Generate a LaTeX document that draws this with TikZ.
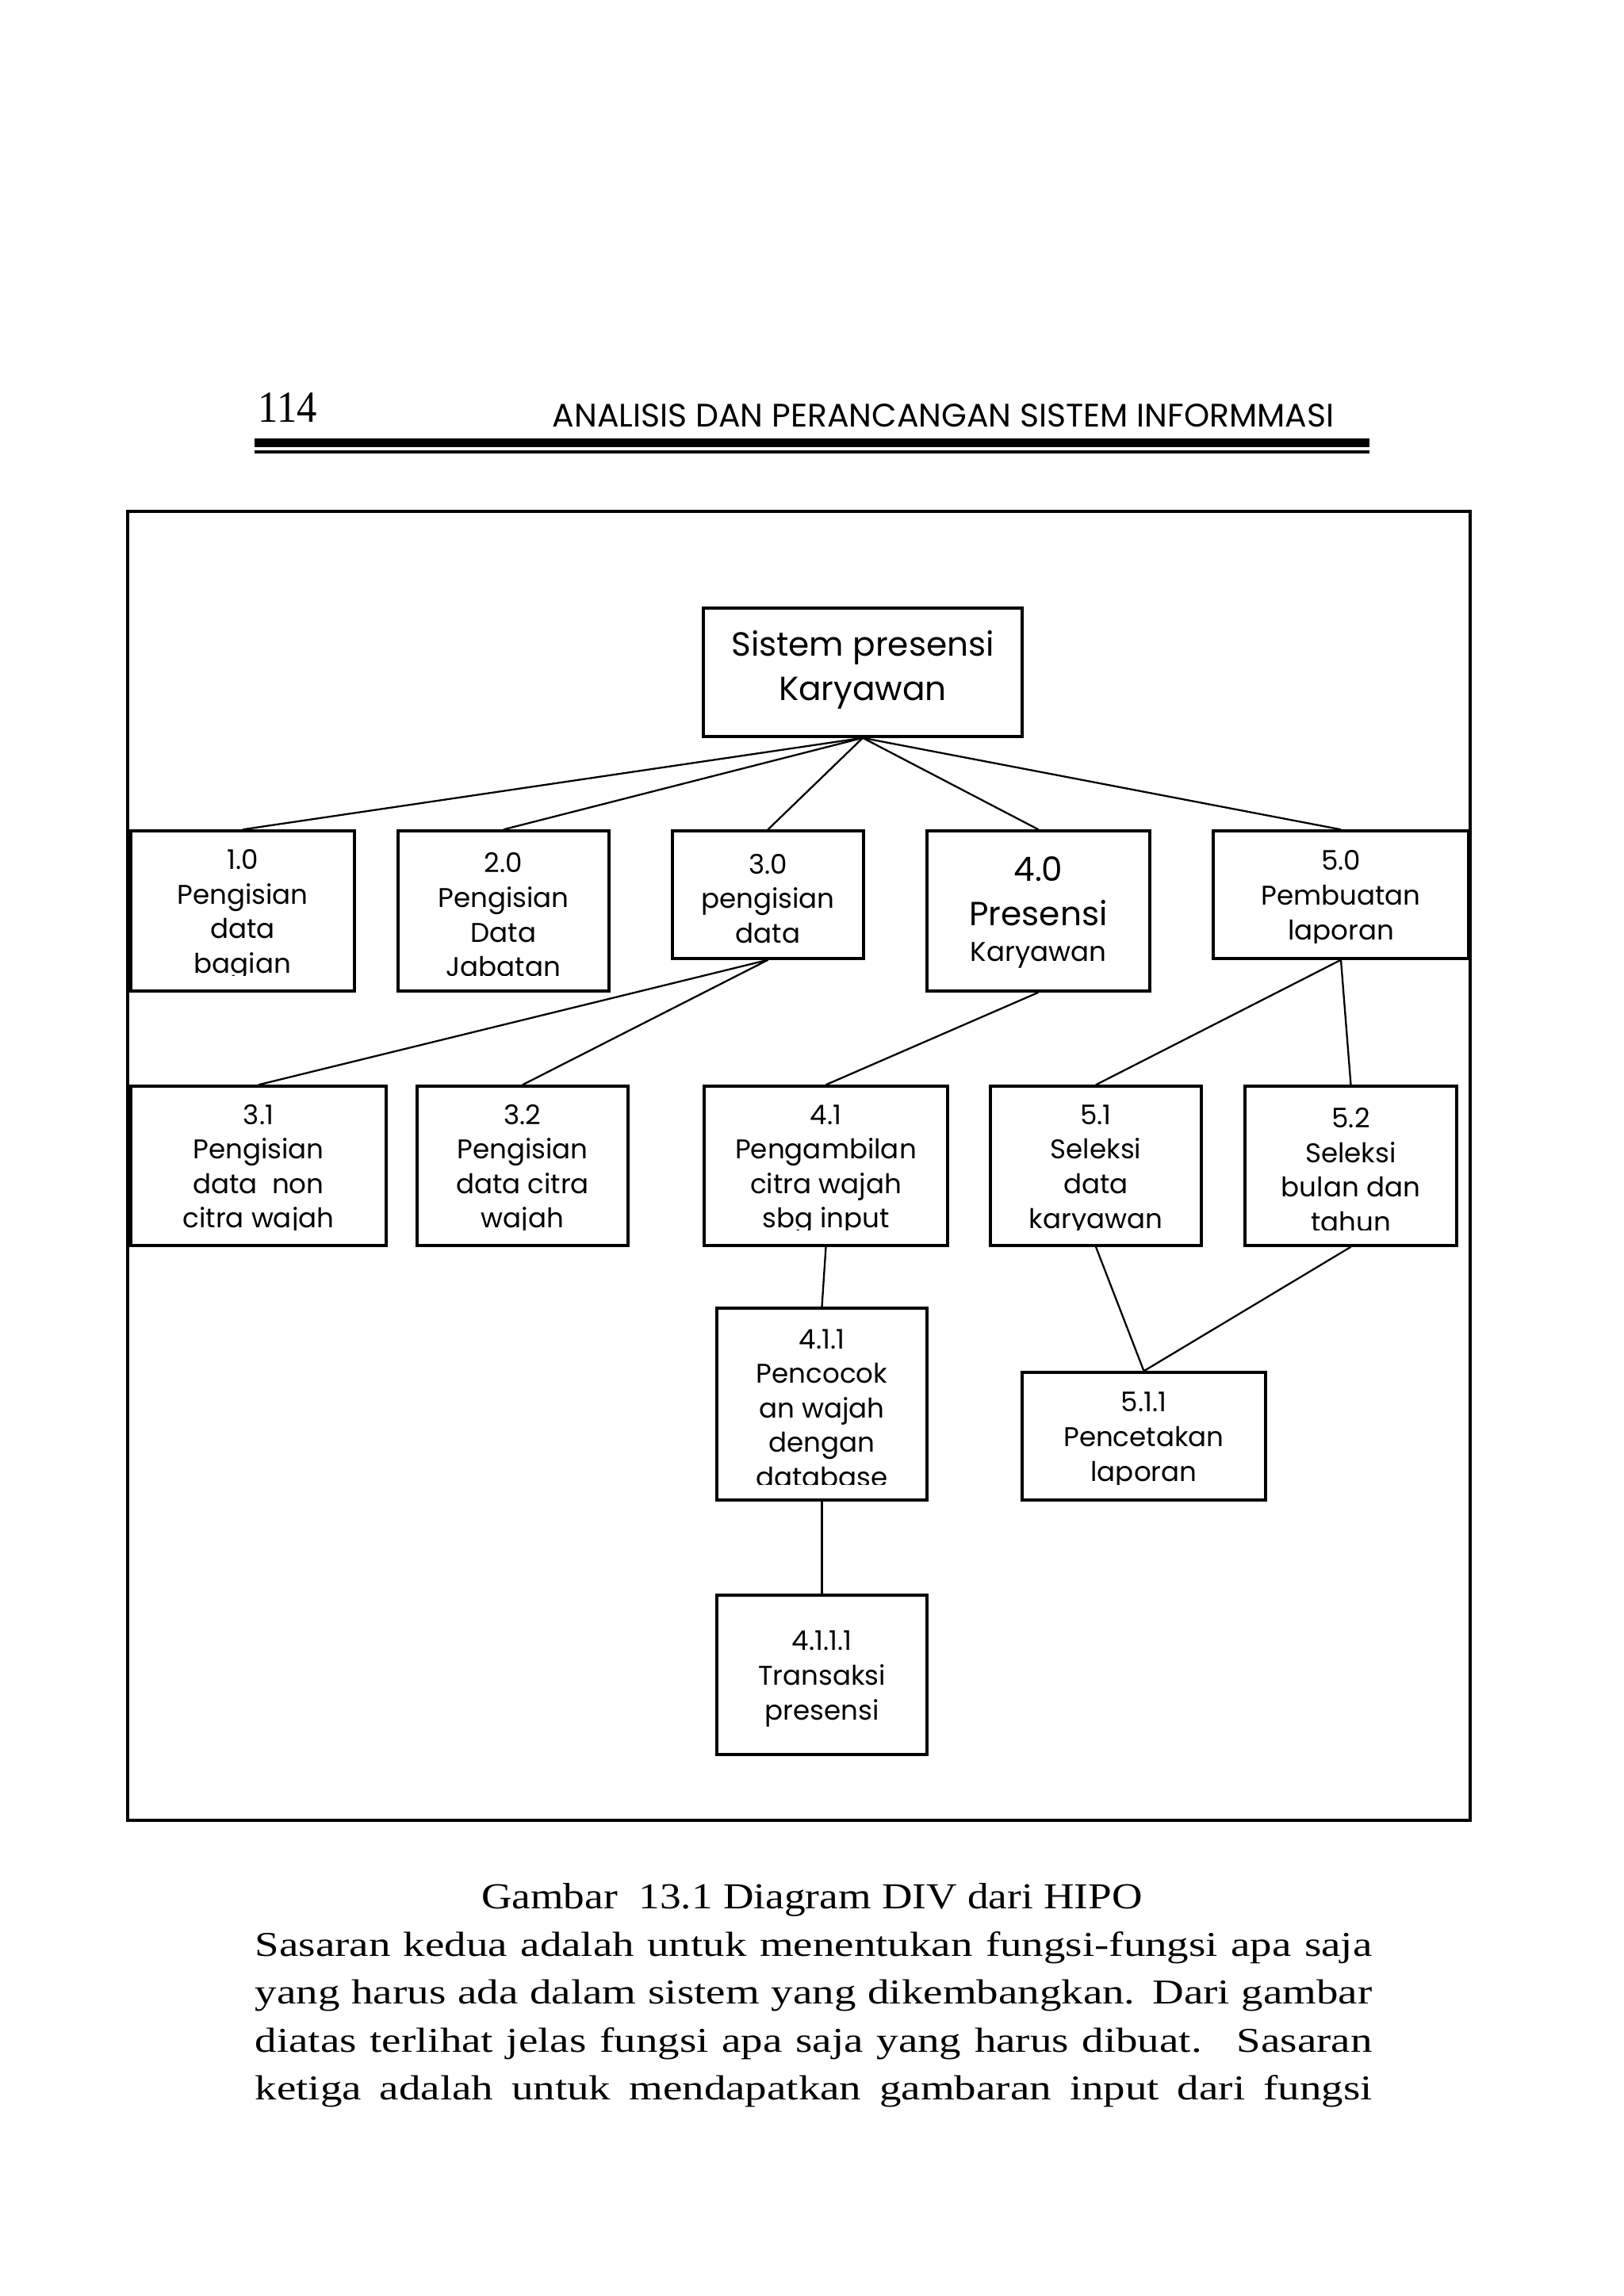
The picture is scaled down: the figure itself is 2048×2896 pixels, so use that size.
\documentclass[tikz,border=0pt]{standalone}
\usepackage{fontspec}
\setmainfont{Liberation Serif}
\newfontfamily\gothic{Poppins}
\newfontfamily\bookfont[FakeStretch=1.25]{Liberation Serif}
\usepackage{graphicx}
\tikzset{
  box/.style={draw, line width=0.95pt, inner sep=0pt},
  boxtext/.style={anchor=north, align=center, inner sep=0pt, yshift=-0.032cm, font=\gothic\fontsize{9.7}{12.4}\selectfont},
  big/.style={boxtext/.append style={yshift=0.03cm, font=\gothic\fontsize{12}{15.7}\selectfont}},
  proc/.style 2 args={path picture={
      \clip (path picture bounding box.north west) rectangle ([yshift=0.195cm]path picture bounding box.south east);
      \node[boxtext] (#1) at (path picture bounding box.north) {\vphantom{l}#2};}},
  link/.style={line width=0.65pt},
}
\begin{document}
\begin{tikzpicture}[x=0.01cm, y=-0.01cm]
					\useasboundingbox (0,0) rectangle (2048,2896);
					% Page head:
					\node[anchor=base west, inner sep=0pt] (pgno) at (325,532){\resizebox{0.74cm}{0.37cm}{114}};
					\node[anchor=base west, inner sep=0pt] (runhead) at (696,538){\resizebox{9.85cm}{0.29cm}{\gothic ANALISIS DAN PERANCANGAN SISTEM INFORMMASI}};
					\fill (321,553) rectangle (1727,564);
					\fill (321,568) rectangle (1727,572);
					\draw[line width=1.15pt] (161,645) rectangle (1854,2296);
					% Boxes:
					\node[box, minimum width=4.02cm, minimum height=1.62cm, big, boxtext/.append style={yshift=0.05cm}, proc={troot}{Sistem presensi\\Karyawan}] (root) at (1088,848){};
					\node[box, minimum width=2.82cm, minimum height=2.02cm, proc={t10}{1.0\\Pengisian\\data\\bagian}] (p10) at (306,1149){};
					\node[box, minimum width=2.66cm, minimum height=2.02cm, proc={t20}{2.0\\Pengisian\\Data\\Jabatan}] (p20) at (635,1149){};
					\node[box, minimum width=2.41cm, minimum height=1.61cm, proc={t30}{3.0\\pengisian\\data}] (p30) at (968.5,1128.5){};
					\node[box, minimum width=2.81cm, minimum height=2.02cm, big, proc={t40}{4.0\\Presensi\\[-2.9pt]{\fontsize{9.7}{12.4}\selectfont Karyawan}}] (p40) at (1309.5,1149){};
					\node[box, minimum width=3.22cm, minimum height=1.61cm, proc={t50}{5.0\\Pembuatan\\laporan}] (p50) at (1691,1128.5){};
					\node[box, minimum width=3.22cm, minimum height=2.01cm, proc={t31}{3.1\\Pengisian\\data~ non\\citra wajah}] (p31) at (326,1470.5){};
					\node[box, minimum width=2.66cm, minimum height=2.01cm, proc={t32}{3.2\\Pengisian\\data citra\\wajah}] (p32) at (659,1470.5){};
					\node[box, minimum width=3.07cm, minimum height=2.01cm, proc={t41}{4.1\\Pengambilan\\citra wajah\\sbg input}] (p41) at (1041.5,1470.5){};
					\node[box, minimum width=2.66cm, minimum height=2.01cm, proc={t51}{5.1\\Seleksi\\data\\karyawan}] (p51) at (1382,1470.5){};
					\node[box, minimum width=2.67cm, minimum height=2.01cm, proc={t52}{5.2\\Seleksi\\bulan dan\\tahun}] (p52) at (1703.5,1470.5){};
					\node[box, minimum width=2.65cm, minimum height=2.42cm, proc={t411}{4.1.1\\Pencocok\\an wajah\\dengan\\database}] (p411) at (1036.5,1771){};
					\node[box, minimum width=3.07cm, minimum height=1.61cm, proc={t511}{5.1.1\\Pencetakan\\laporan}] (p511) at (1442.5,1811.5){};
					\node[box, minimum width=2.65cm, minimum height=2.01cm, proc={t4111}{4.1.1.1\\Transaksi\\presensi}] (p4111) at (1036.5,2112.5){};
					% Wires:
					\draw[link] (root.south) -- (p10.north);
					\draw[link] (root.south) -- (p20.north);
					\draw[link] (root.south) -- (p30.north);
					\draw[link] (root.south) -- (p40.north);
					\draw[link] (root.south) -- (p50.north);
					\draw[link] (p30.south) -- (p31.north);
					\draw[link] (p30.south) -- (p32.north);
					\draw[link] (p40.south) -- (p41.north);
					\draw[link] (p50.south) -- (p51.north);
					\draw[link] (p50.south) -- (p52.north);
					\draw[link] (p41.south) -- (p411.north);
					\draw[link] (p411.south) -- (p4111.north);
					\draw[link] (p51.south) -- (p511.north);
					\draw[link] (p52.south) -- (p511.north);
					% Caption and text:
					\node[anchor=base, inner sep=0pt] (caption) at (1024,2407){\resizebox{8.33cm}{0.32cm}{Gambar~ 13.1 Diagram DIV dari HIPO}};
					\node[anchor=base west, inner sep=0pt] (line1) at (321,2467){\bookfont\fontsize{12.5}{14}\selectfont\makebox[14.08cm][s]{Sasaran kedua adalah untuk menentukan fungsi-fungsi apa saja}};
					\node[anchor=base west, inner sep=0pt] (line2) at (321,2527){\bookfont\fontsize{12.5}{14}\selectfont\makebox[14.08cm][s]{yang harus ada dalam sistem yang dikembangkan. Dari gambar}};
					\node[anchor=base west, inner sep=0pt] (line3) at (321,2588){\bookfont\fontsize{12.5}{14}\selectfont\makebox[14.08cm][s]{diatas terlihat jelas fungsi apa saja yang harus dibuat.~ Sasaran}};
					\node[anchor=base west, inner sep=0pt] (line4) at (321,2648){\bookfont\fontsize{12.5}{14}\selectfont\makebox[14.08cm][s]{ketiga adalah untuk mendapatkan gambaran input dari fungsi}};
				\end{tikzpicture}
\end{document}
